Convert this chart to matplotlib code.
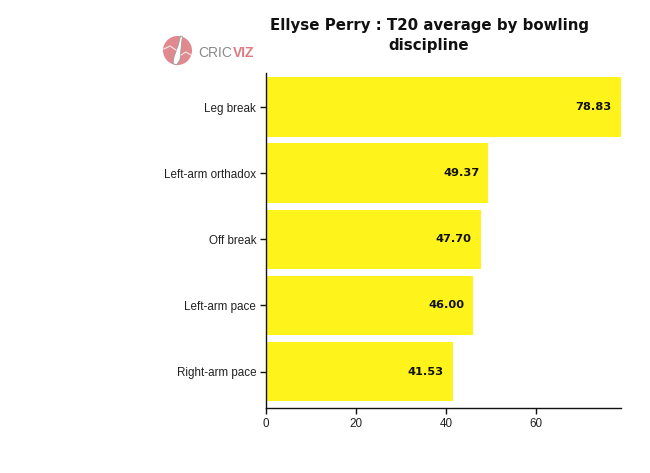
import matplotlib
matplotlib.use("Agg")
import matplotlib.pyplot as plt
from matplotlib.patches import Circle, Polygon

categories = ["Leg break", "Left-arm orthadox", "Off break", "Left-arm pace", "Right-arm pace"]
averages = [78.83, 49.37, 47.70, 46.00, 41.53]
value_labels = ["78.83", "49.37", "47.70", "46.00", "41.53"]
xticks = [0, 20, 40, 60]

fig = plt.figure(figsize=(6.5, 4.73), dpi=100)
fig.patch.set_facecolor("white")
ax = fig.add_axes([266 / 650, 1 - 408 / 473, 355 / 650, (408 - 72.7) / 473])

ypos = list(range(len(categories)))
ax.barh(ypos, averages, height=0.9, color="#fff31c", edgecolor="none")
for y, v, lab in zip(ypos, averages, value_labels):
    ax.annotate(lab, (v, y), xytext=(-6.5, 0), textcoords="offset points",
                ha="right", va="center", fontsize=8.2, fontweight="bold",
                family="DejaVu Sans", color="#111111")

ax.set_xlim(0, max(averages))
ax.set_ylim(4.55, -0.52)
ax.set_yticks(ypos)
ax.set_yticklabels(categories, family="Liberation Sans", fontsize=8.4, color="#222222")
ax.set_xticks(xticks)
ax.set_xticklabels([str(t) for t in xticks], family="Liberation Sans", fontsize=8.4, color="#222222")
ax.tick_params(axis="both", length=4.5, width=1, pad=2.5, color="#111111")
for s in ["top", "right"]:
    ax.spines[s].set_visible(False)
for s in ["left", "bottom"]:
    ax.spines[s].set_linewidth(1)
    ax.spines[s].set_color("#111111")

# Title
fig.text(429 / 650, 1 - 30 / 473, "Ellyse Perry : T20 average by bowling", ha="center",
         va="baseline", fontsize=10.8, fontweight="bold", family="DejaVu Sans", color="#111111")
fig.text(429 / 650, 1 - 50 / 473, "discipline", ha="center",
         va="baseline", fontsize=10.8, fontweight="bold", family="DejaVu Sans", color="#111111")

# Logo
lax = fig.add_axes([0, 0, 1, 1], facecolor="none")
lax.set_xlim(0, 650)
lax.set_ylim(473, 0)
lax.axis("off")
lax.add_patch(Circle((177.5, 50.5), 14.5, facecolor="#e08a90", edgecolor="none"))
# seam-like curves
lax.plot([164, 170, 176], [49, 46, 50], color="white", lw=0.8, alpha=0.8)
lax.plot([181, 186, 191], [55, 52, 55], color="white", lw=0.8, alpha=0.8)
# bat
lax.add_patch(Polygon([[180.5, 36], [182.5, 36.5], [181.5, 44], [180, 60], [176.5, 65],
                       [173, 63.5], [174, 57], [178.5, 44]],
                      closed=True, facecolor="white", edgecolor="#9a9a9a", lw=0.6))
t1 = lax.text(198, 53, "CRIC", ha="left", va="center", fontsize=10, color="#8a8a8a",
              family="Liberation Sans")
lax.annotate("VIZ", xy=(1, 0.5), xycoords=t1, xytext=(0.5, 0), textcoords="offset points",
             ha="left", va="center", fontsize=10, color="#e07a82", fontweight="bold",
             family="Liberation Sans")

fig.savefig("out.png", dpi=100)
